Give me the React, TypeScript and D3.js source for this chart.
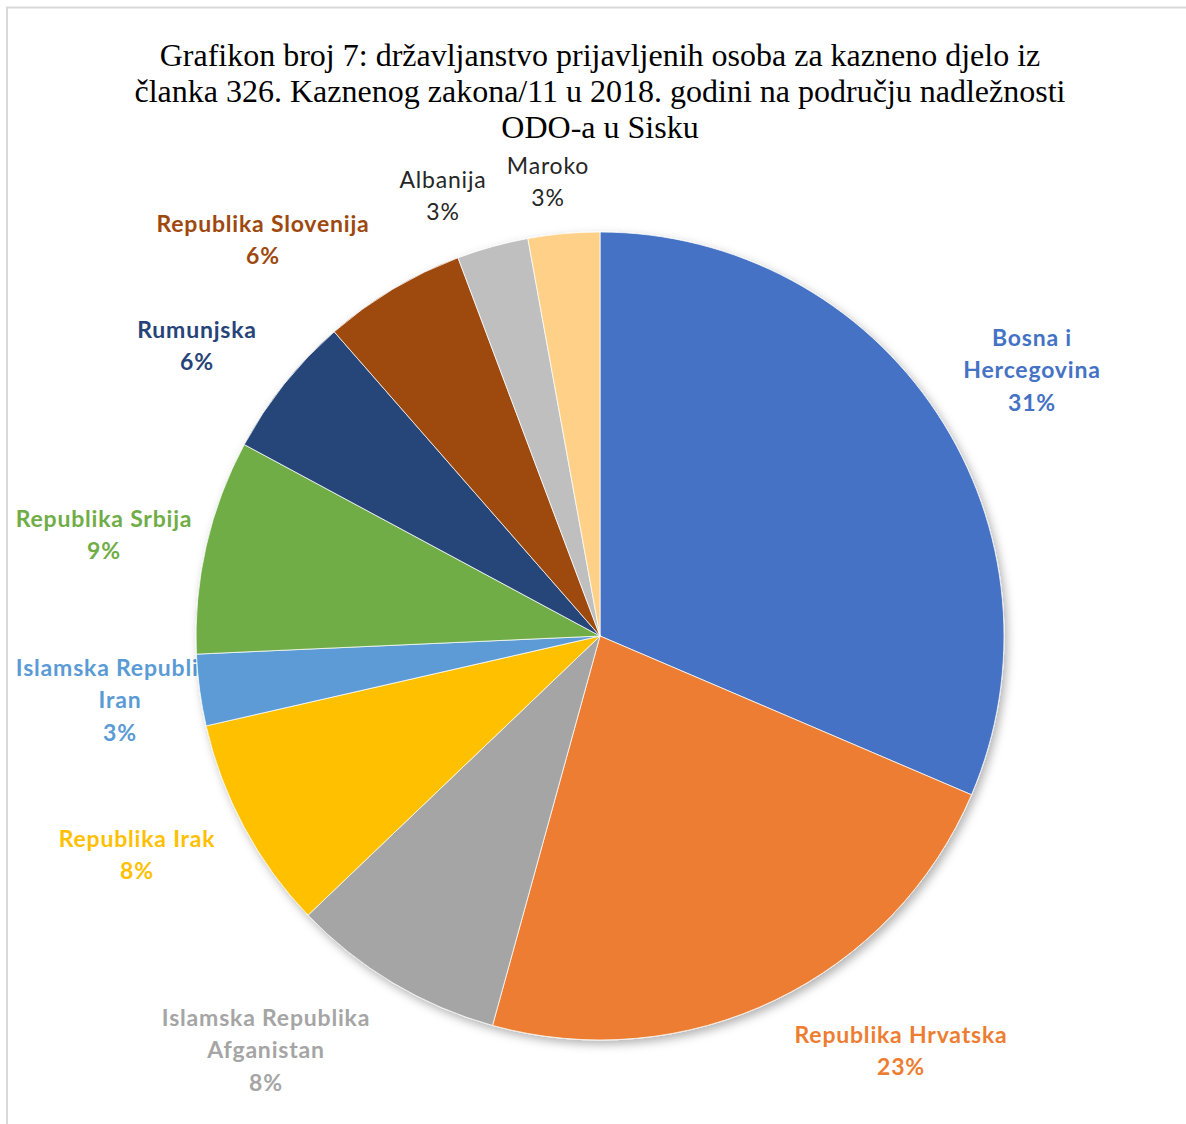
import React from "react";
import * as d3 from "d3";

const titleLines = [
  "Grafikon broj 7: državljanstvo prijavljenih osoba za kazneno djelo iz",
  "članka 326. Kaznenog zakona/11 u 2018. godini na području nadležnosti",
  "ODO-a u Sisku",
];

// broj prijavljenih osoba po državljanstvu (procjena iz kutova isječaka)
const countries = [
  "Bosna i Hercegovina",
  "Republika Hrvatska",
  "Islamska Republika Afganistan",
  "Republika Irak",
  "Islamska Republika Iran",
  "Republika Srbija",
  "Rumunjska",
  "Republika Slovenija",
  "Albanija",
  "Maroko",
];
const counts = [11, 8, 3, 3, 1, 3, 2, 2, 1, 1];
const percentLabels = ["31%", "23%", "8%", "8%", "3%", "9%", "6%", "6%", "3%", "3%"];
// kako su oznake prelomljene u retke
const labelLines = [
  ["Bosna i", "Hercegovina"],
  ["Republika Hrvatska"],
  ["Islamska Republika", "Afganistan"],
  ["Republika Irak"],
  ["Islamska Republika", "Iran"],
  ["Republika Srbija"],
  ["Rumunjska"],
  ["Republika Slovenija"],
  ["Albanija"],
  ["Maroko"],
];

const colors = [
  "#4472C4",
  "#ED7D31",
  "#A5A5A5",
  "#FFC000",
  "#5B9BD5",
  "#70AD47",
  "#264478",
  "#9E480E",
  "#BFBFBF",
  "#FFD188",
];
const labelColors = [
  "#4472C4",
  "#ED7D31",
  "#A5A5A5",
  "#FFC000",
  "#5B9BD5",
  "#70AD47",
  "#264478",
  "#9E480E",
  "#262626",
  "#262626",
];

const W = 1186;
const H = 1124;
const cx = 600;
const cy = 636;
const radius = 404;

// sredista oznaka (x, y prvog retka)
const labelPos: [number, number][] = [
  [1032, 340],
  [901, 1037],
  [266, 1020],
  [137, 841],
  [120, 670],
  [104, 521],
  [197, 332],
  [263, 226],
  [443, 182],
  [548, 168],
];

export default function App() {
  const pie = d3
    .pie<number>()
    .sort(null)
    .value((d) => d);
  const arcs = pie(counts);
  const arc = d3.arc<d3.PieArcDatum<number>>().innerRadius(0).outerRadius(radius);

  const lineH = 32.3;

  return (
    <svg
      width={W}
      height={H}
      style={{ position: "absolute", left: 0, top: 0, background: "#fff" }}
    >
      <defs>
        <filter id="shadow" x="-10%" y="-10%" width="120%" height="120%">
          <feDropShadow dx="3" dy="4" stdDeviation="5" floodColor="#000" floodOpacity="0.3" />
        </filter>
      </defs>
      <rect x={7} y={7.5} width={W + 10} height={H + 10} fill="#fff" stroke="#d9d9d9" strokeWidth={2} />

      <g fontFamily="'Liberation Serif', 'Times New Roman', serif" fontSize={32} fill="#000" textAnchor="middle">
        {titleLines.map((t, i) => (
          <text key={i} x={600} y={59 + i * 36} dominantBaseline="middle">
            {t}
          </text>
        ))}
      </g>

      <g fontFamily="Lato, 'Open Sans', sans-serif" fontSize={23} letterSpacing={0.8} textAnchor="middle">
        {arcs.map((a, i) => {
          const [lx, ly] = labelPos[i];
          const lines = [...labelLines[i], percentLabels[i]];
          const bold = i < 8;
          return (
            <text
              key={i}
              fill={labelColors[i]}
              fontWeight={bold ? 700 : 400}
              dominantBaseline="middle"
            >
              {lines.map((l, j) => (
                <tspan key={j} x={lx} y={ly + j * lineH}>
                  {l}
                </tspan>
              ))}
            </text>
          );
        })}
      </g>

      <g transform={`translate(${cx},${cy})`}>
        <g filter="url(#shadow)">
          {arcs.map((a, i) => (
            <path key={i} d={arc(a) || ""} fill={colors[i]} stroke="#fff" strokeWidth={0.75} />
          ))}
        </g>
      </g>
    </svg>
  );
}
